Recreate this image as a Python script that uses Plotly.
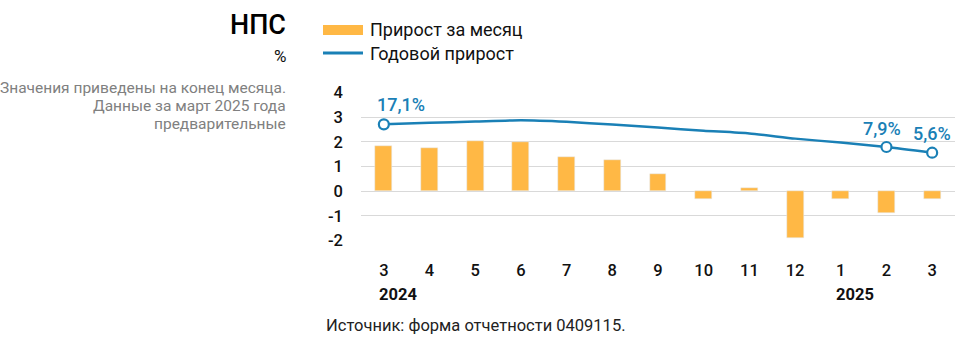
import plotly.graph_objects as go

# ---- data ----
periods = ["2024-03", "2024-04", "2024-05", "2024-06", "2024-07", "2024-08", "2024-09",
           "2024-10", "2024-11", "2024-12", "2025-01", "2025-02", "2025-03"]
month_labels = ["3", "4", "5", "6", "7", "8", "9", "10", "11", "12", "1", "2", "3"]
monthly_growth = [1.82, 1.75, 2.02, 1.98, 1.38, 1.26, 0.69, -0.31, 0.11, -1.89, -0.31, -0.90, -0.31]
annual_growth = [17.1, 17.7, 18.2, 18.7, 18.1, 17.0, 15.8, 14.5, 13.4, 11.3, 9.7, 7.9, 5.6]
labelled_points = {0: "17,1%", 11: "7,9%", 12: "5,6%"}
year_labels = {"2024-03": "2024", "2025-01": "2025"}
y_ticks = [-2, -1, 0, 1, 2, 3, 4]
note_lines = ["Значения приведены на конец месяца.", "Данные за март 2025 года", "предварительные"]

ORANGE = "#FFB845"
BLUE = "#1A80B6"
GRID = "#D9D9D9"
FONT = "Roboto"

W_FIG, H_FIG = 969, 341
L, R, T, B = 361, 14, 92, 100
PW = W_FIG - L - R
PH = H_FIG - T - B


def px(x):
    return (x - L) / PW


def py(y):
    return (H_FIG - B - y) / PH


fig = go.Figure()
fig.add_trace(go.Bar(x=periods, y=monthly_growth, marker_color=ORANGE, width=0.37,
                     name="Прирост за месяц", showlegend=False))
fig.add_trace(go.Scatter(x=periods, y=annual_growth, yaxis="y2", mode="lines",
                         line=dict(color=BLUE, width=2.5, shape="spline", smoothing=0.6),
                         name="Годовой прирост", showlegend=False))
mk_x = [periods[i] for i in labelled_points]
mk_y = [annual_growth[i] for i in labelled_points]
fig.add_trace(go.Scatter(x=mk_x, y=mk_y, yaxis="y2", mode="markers",
                         marker=dict(size=10, color="white", line=dict(color=BLUE, width=2.2)),
                         showlegend=False))

annotations = []
shifts = {0: ("left", -9, 20), 11: ("center", -4, 19), 12: ("center", 0, 19)}
for i, txt in labelled_points.items():
    xa, xs, ys = shifts[i]
    annotations.append(dict(x=periods[i], y=annual_growth[i], xref="x", yref="y2", text=txt,
                            showarrow=False, xanchor=xa, yanchor="middle", xshift=xs, yshift=ys,
                            font=dict(family=FONT, size=18, color=BLUE, weight=500)))

for per, yr in year_labels.items():
    annotations.append(dict(x=per, y=py(294), xref="x", yref="paper", text="<b>" + yr + "</b>",
                            showarrow=False, xanchor="left", yanchor="middle", xshift=-7,
                            font=dict(family=FONT, size=16.5, color="#111111")))

annotations += [
    dict(x=px(288), y=py(25), xref="paper", yref="paper", text="НПС", showarrow=False,
         xanchor="right", yanchor="middle", font=dict(family=FONT, size=27, color="#000000", weight=500)),
    dict(x=px(288), y=py(56), xref="paper", yref="paper", text="%", showarrow=False,
         xanchor="right", yanchor="middle", font=dict(family=FONT, size=17, color="#111111")),
    dict(x=px(368), y=py(30), xref="paper", yref="paper", text="Прирост за месяц", showarrow=False,
         xanchor="left", yanchor="middle", font=dict(family=FONT, size=18, color="#111111")),
    dict(x=px(368), y=py(53), xref="paper", yref="paper", text="Годовой прирост", showarrow=False,
         xanchor="left", yanchor="middle", font=dict(family=FONT, size=18, color="#111111")),
    dict(x=px(324), y=py(325), xref="paper", yref="paper", text="Источник: форма отчетности 0409115.",
         showarrow=False, xanchor="left", yanchor="middle", font=dict(family=FONT, size=16.5, color="#222222")),
]
for k, (line, yy) in enumerate(zip(note_lines, [88, 106, 124])):
    annotations.append(dict(x=px(288), y=py(yy), xref="paper", yref="paper", text=line,
                            showarrow=False, xanchor="right", yanchor="middle",
                            font=dict(family=FONT, size=15.5, color="#808080")))

shapes = [
    dict(type="rect", xref="paper", yref="paper", x0=px(323), x1=px(363), y0=py(25), y1=py(35),
         fillcolor=ORANGE, line=dict(width=0)),
    dict(type="line", xref="paper", yref="paper", x0=px(323), x1=px(363), y0=py(53), y1=py(53),
         line=dict(color=BLUE, width=3)),
]

fig.update_layout(
    width=W_FIG, height=H_FIG,
    margin=dict(l=L, r=R, t=T, b=B, pad=0),
    plot_bgcolor="white", paper_bgcolor="white",
    font=dict(family=FONT, size=16, color="#111111"),
    xaxis=dict(type="category", range=[-0.5, len(periods) - 0.5], tickvals=periods,
               ticktext=month_labels, showgrid=False, showline=False, ticks="",
               ticklabelstandoff=17, tickfont=dict(size=16.5, weight=500)),
    yaxis=dict(range=[-2.02, 4.02], tickvals=y_ticks, ticktext=[str(v) for v in y_ticks],
               showgrid=True, gridcolor=GRID, gridwidth=1, zeroline=True, zerolinecolor=GRID,
               zerolinewidth=1, showline=False, ticks="", ticklabelstandoff=17,
               tickfont=dict(size=16.5, weight=500)),
    yaxis2=dict(range=[-30.2, 30.2], overlaying="y", side="right", visible=False),
    annotations=annotations, shapes=shapes, showlegend=False, bargap=0,
)

fig.write_html("out.html")
